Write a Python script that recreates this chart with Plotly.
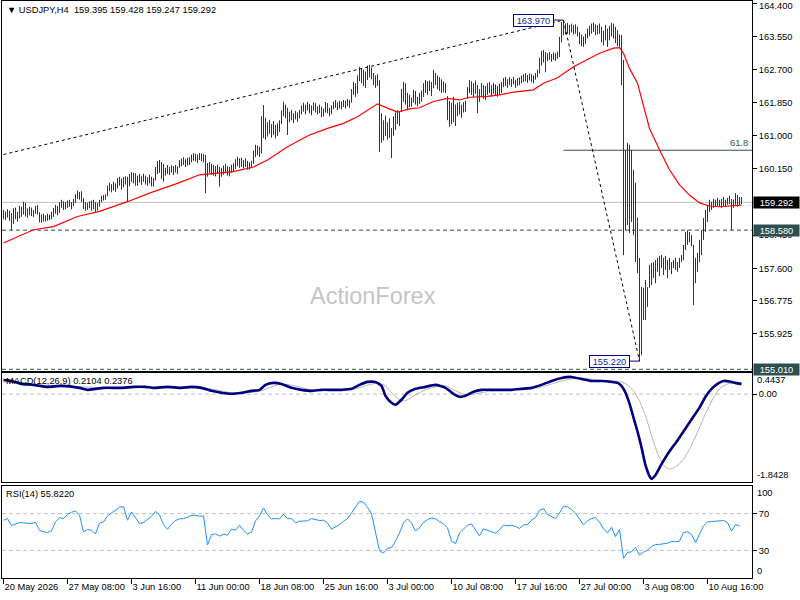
import plotly.graph_objects as go

# ---------------- data ----------------
highs = [
    159.10,159.06,159.12,159.08,159.02,159.14,159.16,159.05,159.20,159.18,
    159.31,159.28,159.14,159.18,159.16,159.10,159.20,159.22,159.04,158.98,
    159.00,158.96,159.00,158.98,159.05,159.15,159.23,159.20,159.30,159.36,
    159.32,159.30,159.34,159.36,159.30,159.38,159.50,159.60,159.56,159.58,
    159.40,159.30,159.28,159.32,159.34,159.36,159.30,159.28,159.36,159.46,
    159.48,159.50,159.72,159.80,159.76,159.82,159.78,159.92,159.95,159.90,
    159.94,159.96,159.95,160.02,160.07,160.05,160.04,159.98,160.02,159.96,
    160.03,159.98,159.94,160.00,159.95,159.92,160.20,160.35,160.38,160.33,
    160.28,160.18,160.25,160.20,160.24,160.22,160.25,160.22,160.38,160.42,
    160.45,160.40,160.44,160.45,160.52,160.56,160.54,160.52,160.56,160.55,
    160.53,160.51,160.30,160.33,160.28,160.25,160.22,160.26,160.20,160.18,
    160.24,160.28,160.22,160.20,160.26,160.30,160.40,160.46,160.42,160.44,
    160.38,160.42,160.36,160.32,160.36,160.62,160.77,160.75,160.72,161.50,
    161.79,161.46,161.35,161.41,161.30,161.38,161.28,161.32,161.40,161.65,
    161.87,161.80,161.72,161.62,161.66,161.58,161.64,161.60,161.66,161.78,
    161.85,161.80,161.87,161.82,161.78,161.86,161.84,161.76,161.80,161.75,
    161.70,161.87,161.84,161.72,161.78,161.88,161.92,161.86,161.90,161.88,
    161.92,161.90,161.94,161.92,162.20,162.38,162.35,162.55,162.77,162.74,
    162.70,162.65,162.80,162.82,162.75,162.61,162.55,162.58,162.43,161.58,
    161.40,161.52,161.35,161.45,161.20,161.50,161.60,161.66,161.62,162.20,
    162.38,162.35,162.10,162.05,161.98,162.18,162.15,162.00,162.10,162.16,
    162.35,162.43,162.40,162.42,162.38,162.69,162.61,162.55,162.50,162.45,
    162.40,162.35,162.02,161.90,161.85,162.00,161.80,161.85,161.87,161.80,
    161.86,161.90,162.25,162.43,162.40,162.35,162.42,162.30,162.20,162.35,
    162.30,162.28,162.35,162.38,162.30,162.36,162.32,162.28,162.34,162.38,
    162.48,162.51,162.45,162.50,162.46,162.51,162.44,162.48,162.50,162.55,
    162.58,162.61,162.56,162.60,162.58,162.55,162.61,162.70,163.00,163.18,
    163.20,163.15,163.12,163.15,163.10,163.14,163.12,163.16,163.54,163.92,
    163.97,163.88,163.90,163.85,163.88,163.84,163.86,163.80,163.66,163.60,
    163.55,163.62,163.75,163.82,163.88,163.90,163.86,163.84,163.88,163.80,
    163.70,163.84,163.75,163.82,163.90,163.88,163.80,163.71,163.60,163.59,
    162.95,160.64,160.82,160.77,160.64,160.13,159.80,158.90,157.87,157.12,
    157.10,157.30,157.12,157.69,157.74,157.76,157.81,157.87,157.92,157.94,
    157.87,157.92,157.81,157.87,157.76,157.81,157.87,157.76,157.87,157.94,
    158.20,158.53,158.58,158.53,158.45,158.20,157.87,158.00,158.33,158.58,
    158.89,159.10,159.23,159.36,159.31,159.38,159.36,159.41,159.36,159.38,
    159.43,159.36,159.41,159.46,159.38,159.36,159.53,159.48,159.43,159.428,
]
lows = [
    158.86,158.84,158.90,158.82,158.58,158.74,158.86,158.80,158.88,158.92,
    158.98,158.93,158.90,158.96,158.94,158.92,159.00,158.98,158.78,158.77,
    158.80,158.80,158.82,158.84,158.86,158.92,159.00,158.96,159.02,159.15,
    159.10,159.12,159.15,159.18,159.12,159.20,159.28,159.38,159.36,159.30,
    159.12,159.08,159.10,159.14,159.08,159.12,159.05,159.08,159.18,159.30,
    159.34,159.36,159.45,159.58,159.55,159.60,159.56,159.65,159.72,159.62,
    159.68,159.75,159.31,159.70,159.82,159.78,159.72,159.72,159.80,159.74,
    159.82,159.75,159.72,159.78,159.70,159.70,159.85,160.02,160.05,159.90,
    159.82,159.98,160.02,159.99,160.05,160.00,160.06,160.02,160.18,160.22,
    160.25,160.20,160.24,160.25,160.32,160.36,160.34,160.30,160.38,160.35,
    160.32,159.53,159.95,160.05,160.00,159.98,159.96,160.02,159.70,159.95,
    160.00,160.04,159.98,159.96,160.05,160.08,160.15,160.22,160.18,160.20,
    160.16,160.20,160.13,160.13,160.18,160.28,160.45,160.50,160.46,160.55,
    160.94,160.90,160.98,161.05,160.95,161.02,160.94,161.00,161.10,161.30,
    161.50,161.45,161.02,161.35,161.40,161.33,161.42,161.36,161.45,161.55,
    161.62,161.55,161.65,161.58,161.53,161.64,161.60,161.55,161.58,161.48,
    161.50,161.60,161.58,161.50,161.55,161.68,161.72,161.66,161.70,161.68,
    161.74,161.70,161.76,161.72,161.85,162.05,162.00,162.08,162.40,162.35,
    162.28,162.23,162.43,162.50,162.45,162.30,162.23,162.28,160.59,160.82,
    160.88,161.00,160.90,160.95,160.43,161.00,161.15,161.30,161.25,161.61,
    161.87,161.80,161.65,161.74,161.75,161.85,161.80,161.76,161.82,161.88,
    162.00,162.10,162.05,162.15,162.02,162.22,162.30,162.20,162.15,162.10,
    162.12,162.10,161.40,161.23,161.30,161.35,161.25,161.50,161.55,161.46,
    161.60,161.62,161.95,162.10,162.05,162.00,162.08,161.58,161.87,162.00,
    161.95,161.92,162.05,162.10,162.00,162.08,162.04,162.00,162.06,162.10,
    162.25,162.28,162.23,162.30,162.25,162.32,162.23,162.28,162.30,162.35,
    162.38,162.40,162.36,162.42,162.38,162.35,162.44,162.50,162.60,162.80,
    162.88,162.63,162.92,162.95,162.90,162.95,162.92,162.98,163.02,163.40,
    163.58,163.60,163.62,163.59,163.65,163.60,163.62,163.55,163.35,163.30,
    163.28,163.36,163.50,163.56,163.62,163.66,163.58,163.60,163.62,163.40,
    163.32,163.45,163.28,163.45,163.55,163.50,163.38,163.30,163.28,162.30,
    157.94,158.58,158.71,158.51,158.79,158.45,157.76,157.48,155.22,155.37,
    156.28,156.28,156.61,157.10,157.17,157.35,157.22,157.51,157.40,157.61,
    157.43,157.56,157.35,157.56,157.45,157.61,157.56,157.51,157.61,157.76,
    157.81,158.07,158.20,158.27,158.17,156.66,157.22,157.51,157.76,157.94,
    158.33,158.53,158.79,159.05,159.10,159.15,159.18,159.20,159.18,159.15,
    159.20,159.18,159.23,159.25,158.58,159.15,159.23,159.18,159.23,159.247,
]
closes = [
    158.98,158.92,159.05,158.88,158.76,159.08,158.95,158.90,159.12,159.02,
    159.20,159.00,159.05,159.10,159.00,159.05,159.12,159.02,158.85,158.90,
    158.84,158.88,158.92,158.90,159.00,159.10,159.18,159.05,159.25,159.22,
    159.28,159.18,159.30,159.22,159.26,159.34,159.45,159.55,159.42,159.35,
    159.18,159.15,159.22,159.20,159.28,159.20,159.15,159.25,159.32,159.42,
    159.38,159.46,159.68,159.62,159.72,159.66,159.74,159.85,159.78,159.70,
    159.88,159.80,159.70,159.95,159.90,160.00,159.82,159.90,159.85,159.92,
    159.88,159.80,159.90,159.84,159.78,159.88,160.15,160.28,160.10,160.05,
    159.98,160.12,160.08,160.15,160.10,160.18,160.12,160.20,160.32,160.36,
    160.30,160.35,160.40,160.38,160.45,160.50,160.40,160.46,160.48,160.42,
    160.40,159.98,160.22,160.15,160.20,160.05,160.12,160.08,160.00,160.10,
    160.16,160.12,160.08,160.14,160.20,160.25,160.32,160.28,160.36,160.25,
    160.30,160.38,160.22,160.26,160.30,160.55,160.70,160.58,160.66,161.40,
    161.20,161.10,161.22,161.12,161.20,161.10,161.15,161.25,161.35,161.58,
    161.70,161.52,161.40,161.50,161.45,161.52,161.48,161.55,161.60,161.72,
    161.68,161.75,161.70,161.66,161.74,161.78,161.65,161.70,161.62,161.55,
    161.65,161.80,161.62,161.68,161.74,161.82,161.78,161.80,161.76,161.84,
    161.80,161.86,161.82,161.88,162.15,162.30,162.10,162.48,162.65,162.45,
    162.60,162.35,162.72,162.58,162.62,162.40,162.48,162.35,160.95,161.05,
    161.30,161.10,161.20,161.00,161.10,161.40,161.55,161.45,161.58,162.10,
    162.00,161.95,161.90,161.85,161.92,162.10,161.88,161.95,162.05,162.10,
    162.28,162.20,162.35,162.25,162.30,162.55,162.40,162.48,162.25,162.35,
    162.20,162.15,161.60,161.45,161.70,161.50,161.62,161.78,161.65,161.72,
    161.80,161.85,162.20,162.30,162.15,162.28,162.20,161.90,162.10,162.25,
    162.05,162.20,162.28,162.15,162.22,162.30,162.12,162.20,162.25,162.30,
    162.40,162.35,162.42,162.38,162.44,162.36,162.40,162.45,162.38,162.48,
    162.52,162.45,162.50,162.55,162.46,162.52,162.58,162.65,162.90,163.05,
    162.95,163.05,163.00,163.10,162.98,163.08,163.02,163.10,163.45,163.80,
    163.70,163.80,163.70,163.78,163.72,163.76,163.68,163.60,163.45,163.40,
    163.50,163.55,163.70,163.75,163.80,163.72,163.78,163.70,163.66,163.55,
    163.60,163.70,163.50,163.75,163.80,163.62,163.55,163.40,163.45,162.55,
    158.40,160.20,159.10,160.35,159.20,158.70,158.05,157.75,155.60,156.80,
    156.50,157.05,156.90,157.55,157.40,157.65,157.50,157.78,157.60,157.85,
    157.55,157.80,157.62,157.75,157.60,157.72,157.80,157.65,157.82,157.90,
    158.10,158.45,158.30,158.40,158.25,157.50,157.75,157.90,158.20,158.50,
    158.80,159.00,159.15,159.25,159.20,159.30,159.25,159.35,159.28,159.32,
    159.30,159.26,159.35,159.40,159.20,159.30,159.45,159.35,159.395,159.292,
]
bar_index = list(range(len(closes)))
opens = [closes[0]] + closes[:-1]

ma_bar = [0, 15, 25, 37, 48, 62, 73, 87, 98, 107, 115, 125, 132, 142, 153, 162, 170, 177,
          182, 187, 192, 197, 203, 208, 215, 222, 228, 233, 242, 248, 255, 265, 270, 277,
          285, 292, 298, 305, 308, 310, 313, 317, 320, 323, 328, 333, 338, 343, 348, 353,
          358, 369]
ma_value = [158.25, 158.59, 158.67, 158.93, 159.06, 159.31, 159.53, 159.78, 160.00, 160.04,
            160.08, 160.20, 160.38, 160.72, 161.02, 161.19, 161.32, 161.49, 161.66, 161.82,
            161.71, 161.61, 161.69, 161.72, 161.88, 161.96, 161.92, 161.99, 162.01, 162.05,
            162.12, 162.18, 162.35, 162.49, 162.77, 162.95, 163.12, 163.25, 163.26, 163.12,
            162.73, 162.35, 161.75, 161.19, 160.64, 160.13, 159.74, 159.48, 159.28, 159.20,
            159.18, 159.22]

macd_bar = [0, 4, 9, 15, 22, 29, 38, 42, 46, 50, 59, 65, 71, 75, 82, 89, 94, 99, 104, 109,
            114, 119, 124, 128, 131, 135, 139, 144, 149, 154, 159, 164, 169, 174, 178, 182,
            186, 189, 191, 194, 196, 199, 202, 206, 211, 216, 221, 225, 228, 231, 235, 239,
            244, 249, 254, 259, 264, 269, 274, 279, 284, 289, 294, 299, 304, 307, 309, 311,
            313, 315, 317, 319, 321, 323, 324, 326, 329, 333, 337, 341, 345, 348, 351, 354,
            357, 360, 363, 366, 369]
macd_value = [0.298, 0.277, 0.215, 0.194, 0.153, 0.173, 0.132, 0.090, 0.111, 0.132,
              0.132, 0.153, 0.153, 0.132, 0.153, 0.132, 0.153, 0.132, 0.069, 0.028,
              0.007, 0.028, 0.069, 0.090, 0.194, 0.236, 0.215, 0.132, 0.090, 0.069,
              0.090, 0.090, 0.090, 0.111, 0.194, 0.257, 0.257, 0.173, -0.035, -0.180,
              -0.222, -0.118, 0.028, 0.111, 0.153, 0.194, 0.132, 0.007, -0.055, -0.035,
              0.049, 0.090, 0.090, 0.090, 0.090, 0.111, 0.132, 0.194, 0.277, 0.340,
              0.361, 0.319, 0.277, 0.277, 0.257, 0.236, 0.173, 0.028, -0.200, -0.492,
              -0.783, -1.116, -1.490, -1.720, -1.780, -1.697, -1.469, -1.199, -0.970, -0.720,
              -0.471, -0.284, -0.055, 0.111, 0.215, 0.277, 0.267, 0.236, 0.2104]
signal_bar = [0, 9, 19, 29, 39, 49, 59, 69, 79, 89, 99, 106, 114, 121, 129, 134, 139, 146,
              154, 164, 174, 181, 187, 191, 195, 199, 202, 206, 211, 216, 221, 226, 231, 236,
              244, 254, 264, 271, 276, 281, 289, 296, 304, 309, 312, 315, 318, 321, 324, 327,
              330, 333, 336, 340, 344, 348, 351, 355, 358, 362, 366, 369]
signal_value = [0.257, 0.236, 0.173, 0.173, 0.153, 0.132, 0.132, 0.153, 0.132, 0.132,
                0.132, 0.090, 0.028, 0.028, 0.069, 0.153, 0.215, 0.173, 0.090, 0.090,
                0.090, 0.173, 0.236, 0.173, -0.014, -0.138, -0.118, -0.014, 0.090, 0.153,
                0.173, 0.069, -0.014, 0.007, 0.069, 0.090, 0.111, 0.173, 0.236, 0.298,
                0.340, 0.298, 0.277, 0.257, 0.194, 0.069, -0.138, -0.450, -0.866, -1.241,
                -1.490, -1.573, -1.531, -1.365, -1.074, -0.700, -0.409, -0.076, 0.111, 0.215,
                0.236, 0.2376]

# RSI(14), one reading every second bar
rsi_values = [
    62.8, 64.6, 57.0, 58.5, 60.3, 59.9, 59.6, 59.2, 60.6, 52.0,
    50.2, 49.5, 51.3, 61.0, 65.7, 64.6, 69.0, 71.5, 72.9, 68.2,
    50.2, 52.7, 52.0, 48.0, 59.6, 61.0, 67.5, 70.4, 73.6, 76.9,
    77.6, 62.8, 71.8, 65.3, 59.2, 60.3, 63.9, 67.1, 72.5, 68.6,
    58.1, 53.0, 58.8, 62.5, 64.3, 64.6, 66.1, 68.2, 68.2, 67.1,
    67.5, 36.0, 47.3, 48.0, 45.5, 47.7, 46.6, 53.1, 52.0, 57.4,
    51.6, 48.0, 49.8, 62.1, 67.5, 76.2, 68.6, 64.3, 64.6, 64.3,
    69.3, 64.6, 64.6, 59.9, 61.7, 61.7, 62.1, 64.6, 63.5, 62.5,
    62.8, 59.9, 53.1, 55.6, 58.1, 61.7, 64.6, 70.8, 76.9, 83.4,
    82.3, 76.9, 69.7, 50.2, 29.6, 27.1, 32.5, 32.9, 40.1, 49.1,
    59.9, 64.3, 59.6, 51.3, 54.5, 60.6, 63.5, 65.3, 64.3, 61.4,
    58.8, 54.5, 40.1, 37.5, 49.1, 53.1, 57.4, 58.8, 52.7, 45.8,
    53.4, 52.0, 50.5, 48.7, 52.3, 57.4, 56.7, 57.4, 56.0, 53.8,
    57.8, 58.1, 62.8, 65.7, 73.6, 75.5, 69.0, 66.4, 64.6, 70.8,
    78.0, 77.3, 74.4, 70.4, 64.3, 57.8, 62.1, 64.6, 65.7, 60.6,
    53.4, 49.1, 55.2, 45.1, 52.7, 21.3, 27.8, 28.5, 33.2, 24.9,
    28.2, 30.3, 34.3, 36.5, 36.5, 36.8, 37.9, 39.7, 39.4, 40.1,
    49.5, 50.2, 47.3, 38.6, 48.0, 56.7, 61.0, 61.4, 61.4, 61.4,
    62.5, 60.3, 51.0, 58.1, 56.5,
]
rsi_bar = bar_index[0::2][:len(rsi_values)]

trend_bar = [0, 280]
trend_price = [160.52, 163.97]
retrace_bar = [280, 318]
retrace_price = [163.97, 155.22]
fib_level = [160.63]
fib_label = ["61.8"]
marked_points = [(280, 163.97, "163.970"), (318, 155.22, "155.220")]

price_ticks = [164.400, 163.550, 162.700, 161.850, 161.000, 160.150, 159.300, 158.450,
               157.600, 156.775, 155.925]
price_tick_text = ["", "163.550", "162.700", "161.850", "161.000", "160.150",
                   "159.300", "158.450", "157.600", "156.775", "155.925"]
top_price_label = [164.400]
last_price = [159.292]
support_levels = [158.580, 155.010]
macd_levels = [0.0]
rsi_levels = [70, 30]
macd_bounds = [-1.8428, 0.4437]
time_tick_bar = [0, 32, 64, 96, 128, 160, 192, 224, 256, 288, 320, 352]
time_tick_text = ["20 May 2026", "27 May 08:00", "3 Jun 16:00", "11 Jun 00:00",
                  "18 Jun 08:00", "25 Jun 16:00", "3 Jul 00:00", "10 Jul 08:00",
                  "17 Jul 16:00", "27 Jul 00:00", "3 Aug 08:00", "10 Aug 16:00"]

# ---------------- styling ----------------
FONT = "Liberation Sans, Arial, sans-serif"
FS = 9.3
BAR = "#123e5a"
SLATE = "#2f4f4f"
NAVY = "#000080"
X_RANGE = [-0.75, 374.25]
PRICE_RANGE = [154.967, 164.459]

fig = go.Figure()

fig.add_trace(go.Ohlc(
    x=bar_index, open=opens, high=highs, low=lows, close=closes,
    increasing=dict(line=dict(color=BAR, width=1)),
    decreasing=dict(line=dict(color=BAR, width=1)),
    tickwidth=0, xaxis="x", yaxis="y", showlegend=False, hoverinfo="skip"))
fig.add_trace(go.Scatter(x=ma_bar, y=ma_value, mode="lines",
                         line=dict(color="#ff0000", width=1.2),
                         xaxis="x", yaxis="y", showlegend=False, hoverinfo="skip"))
fig.add_trace(go.Scatter(x=trend_bar, y=trend_price, mode="lines",
                         line=dict(color="black", width=1, dash="3px,3px"),
                         xaxis="x", yaxis="y", showlegend=False, hoverinfo="skip"))
fig.add_trace(go.Scatter(x=retrace_bar, y=retrace_price, mode="lines",
                         line=dict(color="black", width=1, dash="3px,3px"),
                         xaxis="x", yaxis="y", showlegend=False, hoverinfo="skip"))

fig.add_trace(go.Scatter(x=signal_bar, y=signal_value, mode="lines",
                         line=dict(color="#b4b4b4", width=1, shape="spline", smoothing=0.5),
                         xaxis="x2", yaxis="y2", showlegend=False, hoverinfo="skip"))
fig.add_trace(go.Scatter(x=macd_bar, y=macd_value, mode="lines",
                         line=dict(color=NAVY, width=2.6, shape="spline", smoothing=0.5),
                         xaxis="x2", yaxis="y2", showlegend=False, hoverinfo="skip"))

fig.add_trace(go.Scatter(x=rsi_bar, y=rsi_values, mode="lines",
                         line=dict(color="#1e90ff", width=1),
                         xaxis="x3", yaxis="y3", showlegend=False, hoverinfo="skip"))

shapes = []
for lv in last_price:
    shapes.append(dict(type="line", xref="x domain", x0=0, x1=1, yref="y", y0=lv, y1=lv,
                       line=dict(color="#c0c0c0", width=1), layer="below"))
for lv in support_levels:
    shapes.append(dict(type="line", xref="x domain", x0=0, x1=1, yref="y", y0=lv, y1=lv,
                       line=dict(color=SLATE, width=1, dash="4px,3px"), layer="below"))
for lv in fib_level:
    shapes.append(dict(type="line", xref="x", x0=retrace_bar[0], x1=X_RANGE[1], yref="y",
                       y0=lv, y1=lv, line=dict(color=SLATE, width=1), layer="below"))
for lv in macd_levels:
    shapes.append(dict(type="line", xref="x2 domain", x0=0, x1=1, yref="y2", y0=lv, y1=lv,
                       line=dict(color="#c0c0c0", width=1, dash="4px,3px"), layer="below"))
for lv in rsi_levels:
    shapes.append(dict(type="line", xref="x3 domain", x0=0, x1=1, yref="y3", y0=lv, y1=lv,
                       line=dict(color="#c0c0c0", width=1, dash="4px,3px"), layer="below"))
# short connectors from the price boxes to the marked bars
for bx, py, lab in marked_points:
    shapes.append(dict(type="line", xref="x", xsizemode="pixel", xanchor=bx, x0=-11, x1=0,
                       yref="y", y0=py, y1=py, line=dict(color=NAVY, width=1), layer="above"))

txt = dict(family=FONT, size=FS, color="black")
ann = []
ann.append(dict(xref="paper", yref="paper", x=0, y=1, xanchor="left", yanchor="top",
                xshift=3, yshift=-2, showarrow=False,
                text="\u25bc USDJPY,H4\u00a0\u00a0159.395 159.428 159.247 159.292", font=txt))
ann.append(dict(xref="paper", yref="paper", x=0.4947, y=0.4887, showarrow=False,
                text="ActionForex", font=dict(family=FONT, size=23.5, color="#c4c4c4")))
ann.append(dict(xref="x2 domain", yref="y2 domain", x=0, y=1, xanchor="left", yanchor="top",
                xshift=2, yshift=-1, showarrow=False, text="MACD(12,26,9) 0.2104 0.2376",
                font=txt))
ann.append(dict(xref="x3 domain", yref="y3 domain", x=0, y=1, xanchor="left", yanchor="top",
                xshift=2, yshift=-1, showarrow=False, text="RSI(14) 55.8220", font=txt))
for lv in top_price_label:
    ann.append(dict(xref="paper", yref="y", x=1, y=lv, xanchor="left", yanchor="middle",
                    xshift=5, yshift=-3, showarrow=False, text=f"{lv:.3f}", font=txt))
ann.append(dict(xref="paper", yref="y2", x=1, y=macd_bounds[1], xanchor="left", yanchor="top",
                xshift=3, showarrow=False, text="0.4437", font=txt))
ann.append(dict(xref="paper", yref="y2", x=1, y=macd_bounds[0], xanchor="left", yanchor="bottom",
                xshift=3, showarrow=False, text="-1.8428", font=txt))
ann.append(dict(xref="paper", yref="y3", x=1, y=100, xanchor="left", yanchor="top",
                xshift=3, showarrow=False, text="100", font=txt))
ann.append(dict(xref="paper", yref="y3", x=1, y=0, xanchor="left", yanchor="bottom",
                xshift=3, showarrow=False, text="0", font=txt))
for lv, bg in [(last_price[0], "black"), (support_levels[0], SLATE), (support_levels[1], SLATE)]:
    ann.append(dict(xref="paper", yref="y", x=1, y=lv, xanchor="left", yanchor="middle",
                    xshift=1, showarrow=False, text=f"{lv:.3f}", bgcolor=bg,
                    width=45, height=11, borderpad=0,
                    font=dict(family=FONT, size=FS, color="white")))
for lv, lab in zip(fib_level, fib_label):
    ann.append(dict(xref="x domain", yref="y", x=1, y=lv, xanchor="right", yanchor="bottom",
                    xshift=-2, showarrow=False, text=lab,
                    font=dict(family=FONT, size=FS, color=SLATE)))
for bx, py, lab in marked_points:
    ann.append(dict(xref="x", yref="y", x=bx, y=py, text=lab, showarrow=False,
                    xanchor="right", yanchor="middle", xshift=-10,
                    bgcolor="white", bordercolor=NAVY, borderwidth=1, borderpad=0,
                    width=39, height=11,
                    font=dict(family=FONT, size=FS, color="#1a2a9a")))

axis_common = dict(showgrid=False, zeroline=False, showline=True, mirror=True,
                   linecolor="black", linewidth=1, automargin=False)
tickfont = dict(family=FONT, size=FS, color="black")

fig.update_layout(
    width=800, height=600,
    margin=dict(l=2, r=48, t=1, b=22, autoexpand=False),
    paper_bgcolor="white", plot_bgcolor="white",
    hovermode=False, showlegend=False,
    shapes=shapes, annotations=ann,
    xaxis=dict(domain=[0, 1], anchor="y", range=X_RANGE, showticklabels=False, ticks="",
               rangeslider=dict(visible=False), **axis_common),
    xaxis2=dict(domain=[0, 1], anchor="y2", matches="x", range=X_RANGE,
                showticklabels=False, ticks="", **axis_common),
    xaxis3=dict(domain=[0, 1], anchor="y3", matches="x", range=X_RANGE,
                tickmode="array", tickvals=time_tick_bar, ticktext=time_tick_text,
                ticks="outside", ticklen=5, tickcolor="black", tickangle=0,
                ticklabelposition="outside right", tickfont=tickfont, **axis_common),
    yaxis=dict(domain=[0.3588, 1], anchor="x", side="right", range=PRICE_RANGE,
               tickmode="array", tickvals=price_ticks, ticktext=price_tick_text,
               ticks="outside", ticklen=4, tickcolor="black", tickfont=tickfont, **axis_common),
    yaxis2=dict(domain=[0.1664, 0.3553], anchor="x2", side="right", range=macd_bounds,
                tickmode="array", tickvals=macd_levels, ticktext=["0.00"],
                ticks="outside", ticklen=4, tickcolor="black", tickfont=tickfont, **axis_common),
    yaxis3=dict(domain=[0, 0.1594], anchor="x3", side="right", range=[0, 100],
                tickmode="array", tickvals=rsi_levels, ticktext=["70", "30"],
                ticks="outside", ticklen=4, tickcolor="black", tickfont=tickfont, **axis_common),
)

fig.write_html("out.html", config={"displayModeBar": False},
               post_script="document.body.style.margin='0px';")
